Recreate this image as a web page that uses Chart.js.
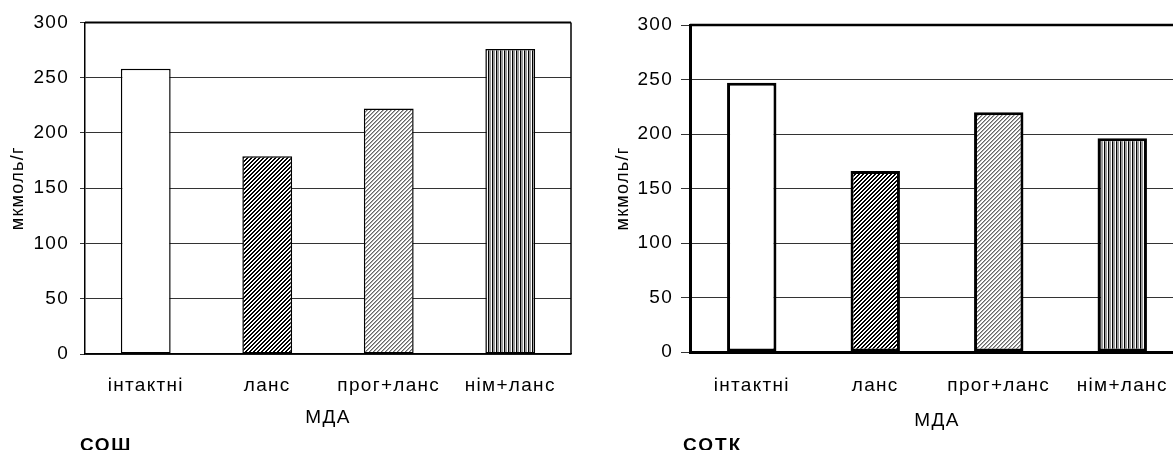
<!DOCTYPE html>
<html>
<head>
<meta charset="utf-8">
<script src="https://cdn.jsdelivr.net/npm/chart.js@4"></script>
<style>
  html, body { margin: 0; padding: 0; background: #fff; overflow: hidden; }
  #wrap { position: relative; width: 1173px; height: 450px; overflow: hidden; }
  canvas { position: absolute; top: 0; }
  #left { left: 0; }
  #right { left: 600px; }
  .cap { position: absolute; font: bold 19px "Liberation Sans", Arial, sans-serif; line-height: 19px; color: #000; }
</style>
</head>
<body>
<div id="wrap">
  <canvas id="left" width="600" height="450"></canvas>
  <canvas id="right" width="600" height="450"></canvas>
  <div class="cap" style="left:80px; top:435px; letter-spacing:1.6px;">СОШ</div>
  <div class="cap" style="left:683px; top:435px; letter-spacing:2px;">СОТК</div>
</div>
<script>
const categories = ['інтактні', 'ланс', 'прог+ланс', 'нім+ланс'];
const soshValues = [258, 179, 222, 276];
const sotkValues = [247, 166, 220, 196];
const yMin = 0;
const yMax = 300;
const yStep = 50;
const xTitle = 'МДА';
const yTitle = 'мкмоль/г';

Chart.defaults.font.family = '"Liberation Sans", Arial, sans-serif';
Chart.defaults.color = '#000';

function makePattern(w, h, paint) {
    const c = document.createElement('canvas');
    c.width = w;
    c.height = h;
    const g = c.getContext('2d');
    g.fillStyle = '#fff';
    g.fillRect(0, 0, w, h);
    for (let y = 0; y < h; y++) {
        for (let x = 0; x < w; x++) {
            const col = paint(x, y);
            if (col) {
                g.fillStyle = col;
                g.fillRect(x, y, 1, 1);
            }
        }
    }
    return g.createPattern(c, 'repeat');
}

function fills(ctx) {
    // white, dense diagonal, light diagonal, vertical stripes
    const diag = makePattern(4, 4, (x, y) => ((x + y) % 4 < 2 ? '#000' : null));
    const light = makePattern(4, 4, (x, y) => {
        const k = (x + y) % 4;
        if (k === 0) return '#666';
        if (k === 1) return '#aaa';
        return null;
    });
    const vert = makePattern(4, 1, (x) => (x === 0 ? '#000' : x === 3 ? '#fff' : '#999'));
    return ['#fff', diag, light, vert];
}

// the scanned chart has loosely spaced text
const spacingPlugin = {
    id: 'spacing',
    beforeDraw(chart) {
        chart.ctx.letterSpacing = '1.3px';
    }
};

const framePlugin = {
    id: 'frame',
    afterDraw(chart, args, opts) {
        const {ctx, chartArea: a} = chart;
        ctx.save();
        ctx.strokeStyle = '#000';
        ctx.lineWidth = opts.top;
        ctx.beginPath();
        ctx.moveTo(a.left, a.top);
        ctx.lineTo(a.right, a.top);
        ctx.stroke();
        ctx.lineWidth = opts.right;
        ctx.beginPath();
        ctx.moveTo(a.right, a.top);
        ctx.lineTo(a.right, a.bottom);
        ctx.stroke();
        ctx.restore();
    }
};

function makeChart(id, values, s) {
    const ctx = document.getElementById(id).getContext('2d');
    return new Chart(ctx, {
        type: 'bar',
        data: {
            labels: categories,
            datasets: [{
                data: values,
                backgroundColor: fills(ctx),
                borderColor: '#000',
                borderWidth: s.barBorder,
                borderSkipped: false,
                barPercentage: s.barPct,
                categoryPercentage: 1,
            }],
        },
        plugins: [spacingPlugin, framePlugin],
        options: {
            responsive: false,
            animation: false,
            layout: {padding: {left: 0, top: s.top, right: s.right, bottom: 0}},
            plugins: {
                legend: {display: false},
                tooltip: {enabled: false},
                frame: {top: s.frameTop, right: s.frameRight},
            },
            scales: {
                x: {
                    afterFit: (scale) => { scale.height = s.xHeight; },
                    grid: {display: false, drawTicks: false},
                    border: {display: true, color: '#000', width: s.axisWidth},
                    ticks: {font: {size: 19}, padding: s.xTickPad, color: '#000'},
                    title: {display: true, text: xTitle, font: {size: 19}, color: '#000',
                        padding: {top: 0, bottom: s.xTitlePad}},
                },
                y: {
                    min: yMin,
                    max: yMax,
                    afterFit: (scale) => { scale.width = s.yWidth; },
                    grid: {color: '#333', lineWidth: 1, tickLength: s.tickLen},
                    border: {display: true, color: '#000', width: s.axisWidth},
                    ticks: {stepSize: yStep, font: {size: 19}, padding: s.yTickPad, color: '#000'},
                    title: {display: true, text: yTitle, font: {size: 18}, color: '#000',
                        padding: {top: s.yTitlePad, bottom: 0}},
                },
            },
        },
    });
}

makeChart('left', soshValues, {
    top: 21, right: 29, xHeight: 96, yWidth: 85,
    barBorder: 1.5, barPct: 0.41, axisWidth: 1.5, tickLen: 5,
    xTickPad: 20, xTitlePad: 21, yTickPad: 11, yTitlePad: 7,
    frameTop: 2, frameRight: 1.5,
});

makeChart('right', sotkValues, {
    top: 25, right: 16, xHeight: 98, yWidth: 90,
    barBorder: 3, barPct: 0.40, axisWidth: 3, tickLen: 9,
    xTickPad: 22, xTitlePad: 18, yTickPad: 8, yTitlePad: 12,
    frameTop: 2.5, frameRight: 2,
});
</script>
</body>
</html>
